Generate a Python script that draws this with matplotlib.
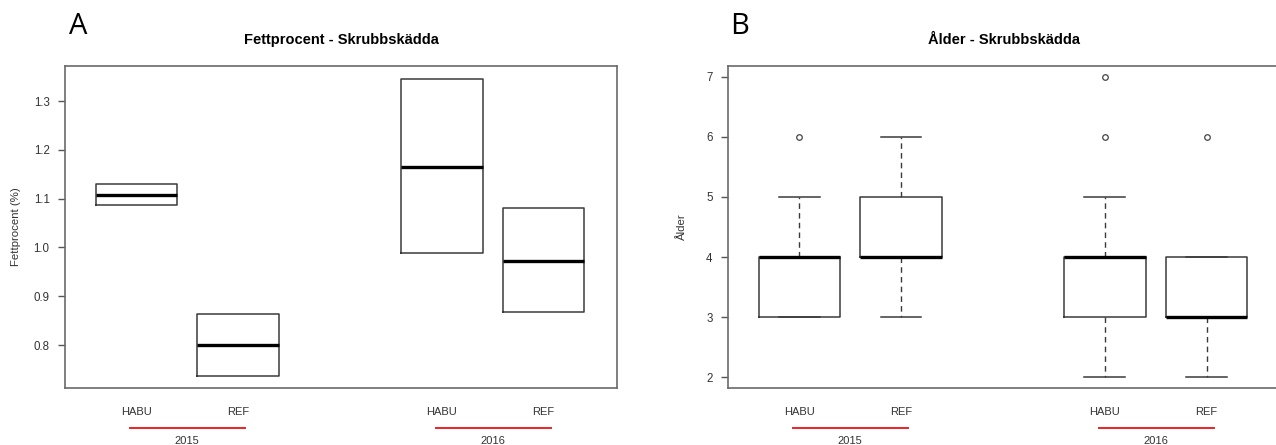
import matplotlib.pyplot as plt

plt.rcParams['font.family'] = ['Liberation Sans', 'DejaVu Sans']

positions = [1, 2, 4, 5]
groups = ['HABU', 'REF', 'HABU', 'REF']
years = ['2015', '2016']

# Fettprocent (boxes only, no whiskers visible)
fett_q1 = [1.088, 0.736, 0.988, 0.867]
fett_med = [1.108, 0.800, 1.165, 0.973]
fett_q3 = [1.130, 0.864, 1.345, 1.080]

# Alder
alder_lo = [3, 3, 2, 2]
alder_q1 = [3, 4, 3, 3]
alder_med = [4, 4, 4, 3]
alder_q3 = [4, 5, 4, 4]
alder_hi = [5, 6, 5, 4]
alder_fliers = [[6], [], [6, 7], [6]]


def make_stats(lo, q1, med, q3, hi, fliers):
    return [dict(whislo=a, q1=b, med=c, q3=d, whishi=e, fliers=f)
            for a, b, c, d, e, f in zip(lo, q1, med, q3, hi, fliers)]


box_kw = dict(
    positions=positions, widths=0.8,
    boxprops=dict(color='#3a3a3a', linewidth=1.1),
    medianprops=dict(color='black', linewidth=2.4),
    whiskerprops=dict(color='#3a3a3a', linewidth=1.0, linestyle=(0, (4, 3))),
    capprops=dict(color='#3a3a3a', linewidth=1.1),
    flierprops=dict(marker='o', markersize=4, markerfacecolor='none',
                    markeredgecolor='#444444', markeredgewidth=0.9),
)

fig = plt.figure(figsize=(12.76, 4.45), dpi=100)
axA = fig.add_axes([0.0509, 0.1281, 0.4326, 0.7236])
axB = fig.add_axes([0.5705, 0.1281, 0.4326, 0.7236])

statsA = make_stats(fett_q1, fett_q1, fett_med, fett_q3, fett_q3,
                    [[] for _ in positions])
axA.bxp(statsA, showcaps=False, **box_kw)
axA.set_ylim(0.712, 1.372)
axA.set_yticks([0.8, 0.9, 1.0, 1.1, 1.2, 1.3])
axA.set_yticklabels(['0.8', '0.9', '1.0', '1.1', '1.2', '1.3'])
axA.set_ylabel('Fettprocent (%)', fontsize=8.2, color='#333333', labelpad=9)
axA.set_title('Fettprocent - Skrubbskädda', fontsize=10.5, fontweight='bold',
              pad=16)

statsB = make_stats(alder_lo, alder_q1, alder_med, alder_q3, alder_hi,
                    alder_fliers)
axB.bxp(statsB, **box_kw)
axB.set_ylim(1.82, 7.18)
axB.set_yticks([2, 3, 4, 5, 6, 7])
axB.set_ylabel('Ålder', fontsize=8.2, color='#333333', labelpad=14)
axB.set_title('Ålder - Skrubbskädda', fontsize=10.5, fontweight='bold', pad=16)

for ax, letter, lx in [(axA, 'A', 78), (axB, 'B', 740)]:
    ax.set_xlim(0.3, 5.72)
    ax.set_xticks(positions)
    ax.set_xticklabels(groups)
    ax.tick_params(axis='x', length=0, pad=14, labelsize=8, labelcolor='#333333')
    ax.tick_params(axis='y', length=5, width=1, color='#555555', pad=6,
                   labelsize=8.3, labelcolor='#333333')
    for s in ax.spines.values():
        s.set_color('#6a6a6a')
        s.set_linewidth(1.2)
    tr = ax.get_xaxis_transform()
    for i, yr in enumerate(years):
        p0, p1 = positions[2 * i], positions[2 * i + 1]
        ax.plot([p0 - 0.06, p1 + 0.07], [-0.124, -0.124], transform=tr,
                clip_on=False, color='#ee2222', linewidth=1.4)
        ax.text((p0 + p1) / 2, -0.165, yr, transform=tr, ha='center',
                va='center', fontsize=8, color='#333333')
    fig.text(lx / 1276, 1 - 27 / 445, letter, fontsize=21, family='Open Sans',
             ha='center', va='center')

fig.savefig('out.png', dpi=100)
